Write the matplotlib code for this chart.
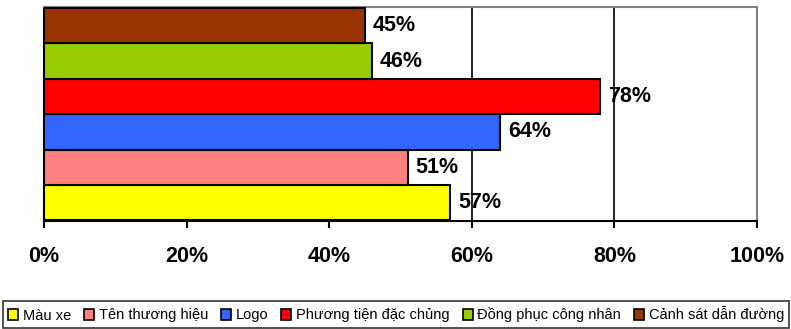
import matplotlib
matplotlib.use("Agg")
import matplotlib.pyplot as plt
from matplotlib.patches import Patch

categories = ["Màu xe", "Tên thương hiệu", "Logo", "Phương tiện đặc chủng",
              "Đồng phục công nhân", "Cảnh sát dẫn đường"]
values = [57, 51, 64, 78, 46, 45]
colors = ["#FFFF00", "#FF8080", "#3366FF", "#FF0000", "#99CC00", "#993300"]
xticks = [0, 20, 40, 60, 80, 100]
xticklabels = ["0%", "20%", "40%", "60%", "80%", "100%"]

plt.rcParams['font.family'] = ['Liberation Sans', 'DejaVu Sans']

fig = plt.figure(figsize=(7.91, 3.29), dpi=100)
ax = fig.add_axes([44/791, 1-221/329, (757-44)/791, (221-7)/329])

for i, (c, v, col) in enumerate(zip(categories, values, colors)):
    ax.barh(i, v, height=1.0, color=col, edgecolor="black", linewidth=1.5,
            label=c, zorder=3)
    ax.text(v + 1.1, i, f"{v}%", va="center", ha="left", fontsize=15.5,
            fontweight="bold", zorder=4)

ax.set_xlim(0, 100)
ax.set_ylim(-0.52, 5.53)
ax.set_xticks(xticks)
ax.set_xticklabels(xticklabels, fontsize=15.5, fontweight="bold")
ax.set_yticks([])
ax.tick_params(axis="x", direction="out", length=5, width=1.5, pad=13)
for x in xticks[1:-1]:
    ax.axvline(x, color="black", linewidth=1.2, zorder=1)
ax.spines["left"].set_linewidth(1.5)
ax.spines["bottom"].set_linewidth(1.5)
ax.spines["top"].set_color("#808080")
ax.spines["right"].set_color("#808080")
ax.spines["top"].set_linewidth(1.5)
ax.spines["right"].set_linewidth(1.5)

handles = [Patch(facecolor=col, edgecolor="black", linewidth=1.2) for col in colors]
leg = fig.legend(handles, categories, ncol=6, loc="center", mode="expand",
                 bbox_to_anchor=(3/791, 1-328/329, 786/791, 27/329),
                 fontsize=10.5, frameon=True, fancybox=False,
                 handlelength=0.7, handleheight=0.7, handletextpad=0.3,
                 columnspacing=0.6, borderpad=0.35, borderaxespad=0)
leg.get_frame().set_edgecolor("black")
leg.get_frame().set_linewidth(1.2)

fig.savefig("out.png", dpi=100)
